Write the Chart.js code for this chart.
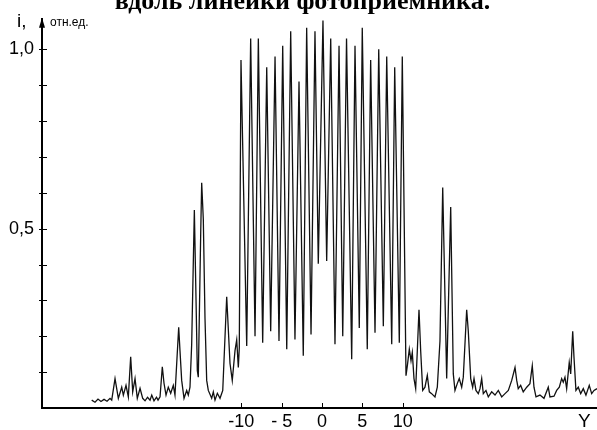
<!DOCTYPE html>
<html>
<head>
<meta charset="utf-8">
<script src="https://cdn.jsdelivr.net/npm/chart.js@4.4.1/dist/chart.umd.min.js"></script>
<style>
    body { margin: 0; background: #fff; overflow: hidden; }
    #wrap { position: relative; width: 597px; height: 430px; overflow: hidden; }
    #title {
        position: absolute; left: 4px; top: -14px; width: 597px;
        text-align: center; font: bold 26px/30px "Liberation Serif", serif; color: #000;
        white-space: nowrap;
    }
</style>
</head>
<body>
<div id="wrap">
    <canvas id="chart" width="597" height="430"></canvas>
    <div id="title">вдоль линейки фотоприемника.</div>
</div>
<script>
// position along the detector line (Y) and the relative signal (i, отн.ед.)
const posY = [
    -28.54, -28.13, -27.76, -27.39, -27.01, -26.64, -26.27, -26.06, -25.65, -25.24,
    -24.82, -24.62, -24.29, -24.00, -23.71, -23.46, -23.17, -22.89, -22.55, -22.22,
    -21.93, -21.62, -21.31, -21.10, -20.82, -20.51, -20.32, -20.07, -19.79, -19.58,
    -19.33, -19.05, -18.75, -18.43, -18.22, -18.00, -17.76, -17.60, -17.39, -17.10,
    -16.77, -16.57, -16.36, -16.15, -15.82, -15.61, -15.45, -15.33, -15.03, -14.91,
    -14.71, -14.50, -14.29, -14.09, -13.67, -13.47, -13.26, -12.97, -12.64, -12.30,
    -11.81, -11.40, -11.12, -10.78, -10.57, -10.37, -10.25,
    -10.04, -9.33, -8.84, -8.30, -7.89, -7.35, -6.85, -6.36, -5.82, -5.33,
    -4.87, -4.37, -3.88, -3.35, -2.85, -2.32, -1.90, -1.36, -0.87, -0.46,
    0.12, 0.58, 1.08, 1.61, 2.11, 2.57, 3.04, 3.68, 4.09, 4.62,
    4.99, 5.61, 6.03, 6.57, 7.03, 7.60, 8.02, 8.64, 9.01, 9.58, 9.95,
    10.41, 10.59, 10.82, 11.03, 11.19, 11.40, 11.61, 11.81, 12.02, 12.23,
    12.48, 12.76, 13.05, 13.30, 13.59, 14.00, 14.29, 14.62, 14.96, 15.45,
    15.95, 16.27, 16.48, 16.76, 17.01, 17.31, 17.51, 17.93, 18.13, 18.43,
    18.67, 18.84, 19.08, 19.37, 19.58, 19.79, 19.99, 20.32, 20.61, 21.03,
    21.44, 21.85, 22.27, 22.68, 23.09, 23.51, 23.92, 24.13, 24.32, 24.62,
    24.94, 25.37, 25.77, 26.06, 26.27, 26.52, 27.01, 27.51, 28.04, 28.25,
    28.75, 29.08, 29.41, 29.70, 29.90, 30.11, 30.32, 30.64, 30.82, 31.07,
    31.23, 31.47, 31.76, 32.06, 32.38, 32.71, 33.12, 33.42, 33.71, 34.08
];
const signal = [
    0.022, 0.016, 0.025, 0.018, 0.024, 0.019, 0.027, 0.022, 0.082, 0.027,
    0.058, 0.036, 0.063, 0.031, 0.143, 0.045, 0.082, 0.027, 0.055, 0.027,
    0.020, 0.030, 0.022, 0.036, 0.020, 0.030, 0.022, 0.031, 0.115, 0.069,
    0.036, 0.058, 0.041, 0.063, 0.036, 0.127, 0.225, 0.160, 0.077, 0.027,
    0.049, 0.036, 0.058, 0.178, 0.552, 0.300, 0.104, 0.086, 0.490, 0.628,
    0.526, 0.250, 0.077, 0.049, 0.027, 0.045, 0.022, 0.041, 0.027, 0.049,
    0.310, 0.124, 0.077, 0.160, 0.190, 0.113, 0.168,
    0.970, 0.173, 1.030, 0.200, 1.030, 0.182, 0.950, 0.214, 0.980, 0.187,
    1.010, 0.164, 1.050, 0.191, 0.910, 0.146, 1.060, 0.205, 1.050, 0.402,
    1.080, 0.410, 1.030, 0.178, 1.010, 0.200, 1.030, 0.136, 1.010, 0.223,
    1.060, 0.164, 0.970, 0.210, 1.000, 0.228, 0.980, 0.178, 0.950, 0.182, 0.980,
    0.090, 0.120, 0.164, 0.132, 0.155, 0.082, 0.054, 0.159, 0.274, 0.159,
    0.049, 0.058, 0.091, 0.045, 0.040, 0.031, 0.058, 0.187, 0.615, 0.082,
    0.560, 0.095, 0.049, 0.068, 0.082, 0.058, 0.086, 0.274, 0.214, 0.082,
    0.058, 0.082, 0.049, 0.040, 0.054, 0.082, 0.040, 0.049, 0.031, 0.045,
    0.036, 0.049, 0.031, 0.040, 0.049, 0.077, 0.113, 0.077, 0.054, 0.063,
    0.045, 0.058, 0.068, 0.118, 0.058, 0.031, 0.036, 0.027, 0.058, 0.031,
    0.033, 0.049, 0.058, 0.082, 0.072, 0.086, 0.054, 0.127, 0.095, 0.214,
    0.141, 0.049, 0.058, 0.040, 0.054, 0.036, 0.063, 0.040, 0.049, 0.054
];
const xTickValues = [-10, -5, 0, 5, 10];
const xTickLabels = ['-10', '- 5', '0', '5', '10'];
const yTickValues = [0.5, 1.0];
const yTickLabels = ['0,5', '1,0'];
const yMinorTicks = [0.1, 0.2, 0.3, 0.4, 0.5, 0.6, 0.7, 0.8, 0.9, 1.0];

const labelFont = { family: 'Liberation Sans', size: 18 };

// small tick marks, axis arrow and the axis captions
const axisMarks = {
    id: 'axisMarks',
    afterDraw(chart) {
        const { ctx, chartArea } = chart;
        const x = chart.scales.x;
        const y = chart.scales.y;
        const ax = chartArea.left;
        ctx.save();
        ctx.strokeStyle = '#000';
        ctx.lineWidth = 1;
        yMinorTicks.forEach(v => {
            const py = Math.round(y.getPixelForValue(v)) + 0.5;
            ctx.beginPath();
            ctx.moveTo(ax - 3, py);
            ctx.lineTo(ax + 5, py);
            ctx.stroke();
        });
        xTickValues.forEach(v => {
            const px = Math.round(x.getPixelForValue(v)) + 0.5;
            ctx.beginPath();
            ctx.moveTo(px, chartArea.bottom);
            ctx.lineTo(px, chartArea.bottom - 5);
            ctx.stroke();
        });
        // arrow on top of the i axis
        ctx.fillStyle = '#000';
        ctx.beginPath();
        ctx.moveTo(ax, chartArea.top - 1);
        ctx.lineTo(ax - 3, chartArea.top + 9);
        ctx.lineTo(ax + 3, chartArea.top + 9);
        ctx.closePath();
        ctx.fill();

        ctx.font = '19px "Liberation Sans"';
        ctx.fillText('i,', 17, 27);
        ctx.font = '12px "Liberation Sans"';
        ctx.fillText('отн.ед.', 50, 26);
        ctx.font = '19px "Liberation Sans"';
        ctx.fillText('Y', 578, 427);
        ctx.restore();
    }
};

const ctx = document.getElementById('chart').getContext('2d');

new Chart(ctx, {
    type: 'line',
    data: {
        datasets: [{
            data: posY.map((p, i) => ({ x: p, y: signal[i] })),
            borderColor: '#111',
            borderWidth: 1.3,
            pointRadius: 0,
            tension: 0,
            fill: false
        }]
    },
    options: {
        responsive: false,
        animation: false,
        devicePixelRatio: 1,
        layout: { padding: { top: 13, right: 0, left: 0, bottom: 0 } },
        plugins: {
            legend: { display: false },
            tooltip: { enabled: false },
            title: { display: false }
        },
        scales: {
            x: {
                type: 'linear',
                min: -34.70,
                max: 34.08,
                afterBuildTicks: scale => { scale.ticks = xTickValues.map(v => ({ value: v })); },
                afterFit: scale => { scale.height = 22; },
                grid: { display: true, drawOnChartArea: false, drawTicks: false },
                border: { display: true, color: '#000', width: 2 },
                ticks: {
                    color: '#000',
                    font: labelFont,
                    padding: 3,
                    maxRotation: 0,
                    autoSkip: false,
                    callback: (value, index) => xTickLabels[index]
                }
            },
            y: {
                min: 0,
                max: 1.085,
                afterBuildTicks: scale => { scale.ticks = yTickValues.map(v => ({ value: v })); },
                afterFit: scale => { scale.width = 42; },
                grid: { display: true, drawOnChartArea: false, drawTicks: false },
                border: { display: true, color: '#000', width: 2 },
                ticks: {
                    color: '#000',
                    font: labelFont,
                    padding: 8,
                    callback: (value, index) => yTickLabels[index]
                }
            }
        }
    },
    plugins: [axisMarks]
});
</script>
</body>
</html>
